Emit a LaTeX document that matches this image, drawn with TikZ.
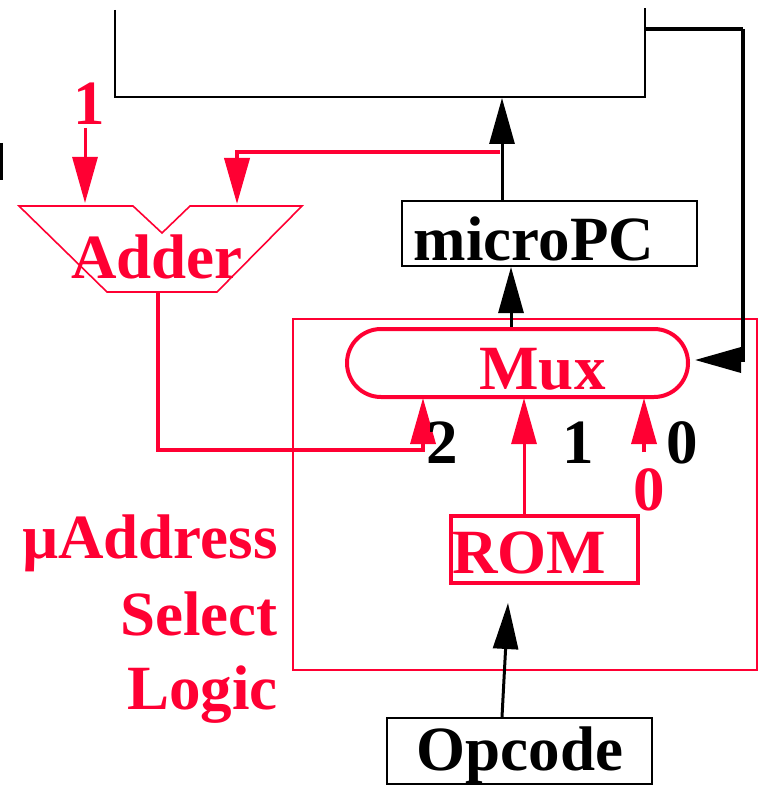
\documentclass[tikz,border=0pt]{standalone}
\usepackage{fontspec}
\setmainfont{Liberation Serif}
\usetikzlibrary{arrows.meta,shapes.misc}
\definecolor{hred}{RGB}{255,0,51}
\begin{document}
\begin{tikzpicture}[x=1pt,y=-1pt,
  lbl/.style={inner sep=0pt,font=\fontsize{63}{63}\selectfont\bfseries},
  arr/.style={line width=3pt,-{Triangle[length=46pt,width=25pt]}},
  box/.style={draw,line width=2pt,inner sep=0pt},
  rbox/.style={draw=hred,line width=4pt,inner sep=0pt}]
\useasboundingbox (0,0) rectangle (762,786);
% top big box (partial)
\coordinate (tl) at (115,10);
\coordinate (tr) at (645,8);
\draw[line width=2pt] (tl) -- (115,97) -- (645,97) -- (tr);
\coordinate (bigbot) at (502,98);
% left tick
\draw[line width=3pt] (1,143) -- (1,180);
% microPC
\node[box,minimum width=295pt,minimum height=65pt] (mpc) at (549.5,233.5) {};
\node[lbl,anchor=base] (mpct) at (534,260) {microPC};
% outer red box
\draw[hred,line width=1.6pt] (293,319) rectangle (757,670);
% Mux
\node[rbox,rounded rectangle,minimum width=341pt,minimum height=68pt] (mux) at (517.5,363) {};
\node[lbl,anchor=base,text=hred] (muxt) at (542.5,389) {Mux};
% ROM
\node[rbox,minimum width=187pt,minimum height=67pt] (rom) at (544.5,549.5) {};
\node[lbl,anchor=base,text=hred] (romt) at (529,573) {ROM};
% Opcode
\node[box,minimum width=265pt,minimum height=66pt] (opc) at (519.5,751) {};
\node[lbl,anchor=base] (opct) at (520,770) {Opcode};
% Adder
\coordinate (a1) at (19,206);
\coordinate (a2) at (133,206);
\coordinate (a3) at (162,233);
\coordinate (a4) at (190,206);
\coordinate (a5) at (302,206);
\coordinate (a6) at (217,292);
\coordinate (a7) at (107,292);
\draw[hred,line width=1.6pt,line join=miter] (a1) -- (a2) -- (a3) -- (a4) -- (a5) -- (a6) -- (a7) -- cycle;
\node[lbl,anchor=base,text=hred] (addt) at (157,278) {Adder};
% input 1 to adder
\node[lbl,anchor=base,text=hred] (one) at (89,125) {1};
\coordinate (onebot) at (85,128);
\draw[arr,hred] (onebot) -- (85,203);
% feedback from microPC output to adder
\coordinate (fb) at (500,152);
\draw[arr,hred,line width=4pt] (fb) -- (237,152) -- (237,204);
% microPC -> big box
\draw[arr] (mpc.north -| bigbot) -- (bigbot);
% Mux -> microPC
\draw[arr] (mux.north -| 511,0) -- (mpc.south -| 511,0);
% right loop into Mux
\coordinate (rt) at (743,29);
\draw[line width=3.5pt] (645,29) -- (rt);
\draw[arr,line width=3.5pt] (rt) -- (743,360) -- (695,360);
% Adder output -> Mux input 2
\coordinate (addout) at (158,292);
\draw[arr,hred,line width=3.5pt] (addout) -- (158,450) -- (423,450) -- (423,398);
% ROM -> Mux input 1
\draw[arr,hred] (rom.north -| 524,0) -- (524,398);
% constant 0 -> Mux input 0
\coordinate (zin) at (644,452);
\draw[arr,hred,line width=3.5pt] (zin) -- (644,398);
% Opcode -> ROM
\draw[arr] (opc.north -| 502,0) -- (508,603);
% input labels
\node[lbl,anchor=base] (l2) at (442,463) {2};
\node[lbl,anchor=base] (l1) at (578,463) {1};
\node[lbl,anchor=base] (l0) at (682,463) {0};
\node[lbl,anchor=base,text=hred] (z0) at (649,510) {0};
% side label
\node[lbl,anchor=base east,text=hred] (s1) at (278,558) {µAddress};
\node[lbl,anchor=base east,text=hred] (s2) at (278,635) {Select};
\node[lbl,anchor=base east,text=hred] (s3) at (278,709) {Logic};
\end{tikzpicture}
\end{document}
